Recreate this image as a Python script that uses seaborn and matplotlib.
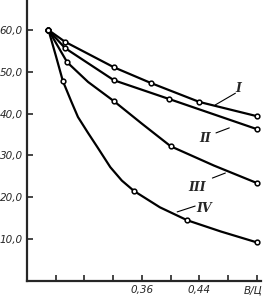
import matplotlib
matplotlib.use('Agg')
import matplotlib.pyplot as plt
import matplotlib.transforms as mtransforms
import seaborn as sns
import pandas as pd

# values (x = В/Ц, y in tens)
x_I = [0.23, 0.253, 0.321, 0.373, 0.440, 0.520]
y_I = [60.0, 57.2, 51.1, 47.3, 42.8, 39.4]

x_II = [0.23, 0.253, 0.321, 0.398, 0.520]
y_II = [60.0, 55.7, 48.0, 43.5, 36.3]

x_III = [0.23, 0.256, 0.321, 0.400, 0.520]
y_III = [60.0, 52.3, 43.0, 32.2, 23.4]

x_IV = [0.23, 0.250, 0.349, 0.423, 0.520]
y_IV = [60.0, 47.8, 21.5, 14.5, 9.2]
# extra points (no markers)
x_III_line = [0.23, 0.256, 0.285, 0.321, 0.360, 0.400, 0.460, 0.520]
y_III_line = [60.0, 52.3, 47.6, 43.0, 37.6, 32.2, 27.6, 23.4]
x_IV_line = [0.23, 0.240, 0.250, 0.262, 0.271, 0.285, 0.298, 0.316, 0.332,
             0.349, 0.385, 0.423, 0.470, 0.520]
y_IV_line = [60.0, 54.0, 47.8, 42.8, 39.2, 35.4, 32.0, 27.2, 24.0,
             21.5, 17.6, 14.5, 11.8, 9.2]

y_ticks = [10, 20, 30, 40, 50, 60]
y_tick_labels = ['10,0', '20,0', '30,0', '40,0', '50,0', '60,0']
x_ticks = [0.24, 0.28, 0.32, 0.36, 0.40, 0.44, 0.48, 0.52]
x_tick_labels = ['', '', '', '0,36', '', '0,44', '', 'В/Ц']

curve_names = ['I', 'II', 'III', 'IV']
label_pos = [(0.494, 46.1), (0.448, 34.1), (0.437, 22.4), (0.447, 17.4)]
leaders = [((0.490, 0.462), (44.9, 42.1)),
           ((0.463, 0.4815), (35.4, 36.6)),
           ((0.458, 0.476), (24.6, 25.8)),
           ((0.409, 0.434), (16.5, 17.9))]

sns.set_style('ticks')

fig = plt.figure(figsize=(2.64, 3.03), dpi=100)
ax = fig.add_axes([0.102, 0.073, 0.885, 0.927])

lines = [(x_I, y_I), (x_II, y_II), (x_III_line, y_III_line), (x_IV_line, y_IV_line)]
for xs, ys in lines:
    df = pd.DataFrame({'x': xs, 'y': ys})
    sns.lineplot(data=df, x='x', y='y', color='black', lw=1.6,
                 estimator=None, sort=True, ax=ax)

marks = [(x_I, y_I), (x_II, y_II), (x_III, y_III), (x_IV, y_IV)]
for xs, ys in marks:
    ax.plot(xs, ys, 'o', ms=3.4, mfc='white', mec='black', mew=1.1, zorder=3)

for name, (tx, ty), (lx, ly) in zip(curve_names, label_pos, leaders):
    ax.text(tx, ty, name, fontsize=9, family='DejaVu Serif', style='italic',
            fontweight='bold', ha='center', va='center')
    ax.plot(lx, ly, color='black', lw=0.8)

ax.set_xlim(0.20, 0.525)
ax.set_ylim(0, 67.2)
ax.set_yticks(y_ticks)
ax.set_yticklabels(y_tick_labels, fontsize=7.5, style='italic')
ax.set_xticks(x_ticks)
ax.set_xticklabels(x_tick_labels, fontsize=7.5, style='italic')
ax.tick_params(direction='in', length=4, width=1.2, pad=3)
last = ax.get_xticklabels()[-1]
last.set_ha('right')
last.set_transform(last.get_transform() +
                   mtransforms.ScaledTranslation(5 / 100, 0, fig.dpi_scale_trans))
ax.set_xlabel('')
ax.set_ylabel('')
sns.despine(ax=ax)
for s in ['left', 'bottom']:
    ax.spines[s].set_linewidth(1.6)

fig.savefig('out.png', dpi=100)
